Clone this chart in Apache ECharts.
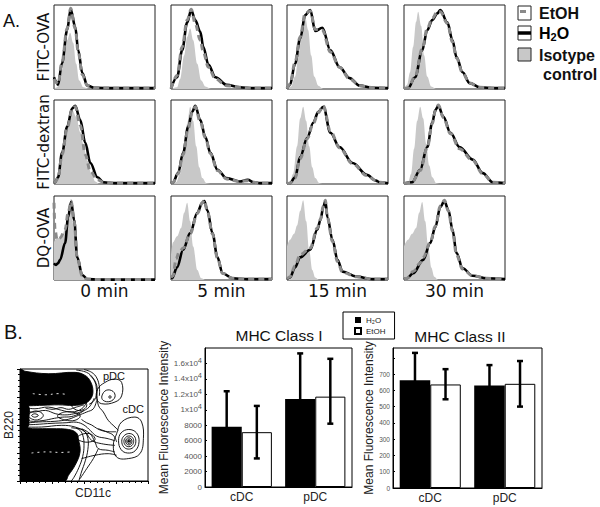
<!DOCTYPE html>
<html>
<head>
<meta charset="utf-8">
<script src="https://cdn.jsdelivr.net/npm/echarts@6/dist/echarts.min.js"></script>
<style>
html, body { margin: 0; padding: 0; background: #fff; }
#main { width: 600px; height: 507px; }
</style>
</head>
<body>
<div id="main"></div>
<script>
// ---- panel A: histograms (x = channel %, y = % of max) ----
var markers = ['FITC-OVA', 'FITC-dextran', 'DQ-OVA'];
var times = ['0 min', '5 min', '15 min', '30 min'];

var ovaH2O = [
    [[0,14],[2,9],[4,5],[8,31],[13,70],[16.5,95],[21,74],[24,46],[28,19],[33,4],[40,1.5],[60,1],[100,1]],
    [[0,0.5],[6,14],[11,46],[16,79],[20,94],[24,82],[29,68],[32,50],[37,29],[44,14],[55,5],[68,2],[80,1],[100,1]],
    [[0,0.5],[3,5],[8,30],[13,60],[18,88],[23,94],[28,69],[35,73],[43,46],[52,26],[62,13],[72,4],[85,1.5],[100,1]],
    [[0,0.5],[4,1],[11,14],[18,46],[23,70],[28,82],[33,90],[36,94],[43,79],[48,58],[52,38],[58,20],[65,7],[75,2],[90,1],[100,1]]
];
var ovaEtOH = [
    [[0,12],[2,8],[4,6],[8,33],[13,72],[16.5,96],[21,72],[24,44],[28,17],[33,4],[40,1.5],[60,1],[100,1]],
    [[0,0.5],[6,16],[11,50],[16,82],[20,95],[24,78],[29,58],[32,44],[37,26],[44,12],[55,4],[68,2],[80,1],[100,1]],
    [[0,0.5],[3,6],[8,32],[13,62],[18,90],[23,93],[28,71],[35,70],[43,44],[52,26],[62,12],[72,4],[85,1.5],[100,1]],
    [[0,0.5],[4,1],[11,15],[18,48],[23,72],[28,84],[33,92],[36,92],[43,78],[48,56],[52,37],[58,19],[65,7],[75,2],[90,1],[100,1]]
];
var ovaIso = [
    [[0,0],[3,2],[6,10],[10,35],[13,58],[16,67],[19,55],[22,30],[25,10],[29,2],[35,0],[100,0]],
    [[0,0],[6,2],[9,12],[13,40],[16,62],[19,72],[22,58],[26,30],[30,10],[34,3],[40,0],[100,0]],
    [[0,0],[4,3],[8,15],[12,45],[15,75],[18,86],[21,70],[24,40],[27,15],[31,4],[36,0],[100,0]],
    [[0,0],[3,5],[6,20],[9,50],[12,80],[14,92],[17,75],[20,40],[23,15],[27,3],[32,0],[100,0]]
];

var dexH2O = [
    [[0,1],[1,2],[4,8],[8,37],[13,68],[18,90],[21,93],[26,76],[31,49],[36,25],[43,8],[49,2],[60,1],[100,1]],
    [[0,1],[2,2],[7,13],[12,37],[17,68],[21,86],[24,93],[29,76],[34,56],[39,37],[46,17],[55,7],[68,3],[76,5],[82,2],[88,1],[100,1]],
    [[0,0.5],[3,1],[8,8],[13,32],[20,55],[26,73],[31,86],[36,92],[43,61],[52,44],[65,25],[79,11],[88,4],[92,2],[100,1]],
    [[0,0.5],[8,2],[16,17],[23,44],[28,73],[31,88],[34,93],[39,80],[46,61],[55,44],[68,29],[78,13],[88,2],[100,1]]
];
var dexEtOH = [
    [[0,1],[1,2],[4,7],[8,35],[13,66],[18,89],[21,92],[26,70],[31,35],[36,15],[43,5],[49,2],[60,1],[100,1]],
    [[0,1],[2,2],[7,12],[12,35],[17,66],[21,85],[24,92],[29,74],[34,55],[39,36],[46,16],[55,6],[68,3],[76,4],[82,2],[88,1],[100,1]],
    [[0,0.5],[3,1],[8,7],[13,30],[20,54],[26,72],[31,85],[36,93],[43,63],[52,43],[65,24],[79,10],[88,4],[92,2],[100,1]],
    [[0,0.5],[8,2],[16,16],[23,43],[28,72],[31,87],[34,94],[39,79],[46,60],[55,42],[68,28],[78,12],[88,2],[100,1]]
];
var dexIso = [
    [[0,0],[3,3],[6,15],[10,45],[14,75],[18,88],[22,80],[26,62],[29,48],[33,28],[37,12],[41,3],[45,0],[100,0]],
    [[0,0],[5,2],[9,12],[13,40],[16,72],[19,92],[22,75],[25,45],[28,20],[31,7],[35,1],[40,0],[100,0]],
    [[0,0],[3,2],[6,12],[10,45],[13,78],[16,92],[19,75],[22,45],[25,20],[28,7],[32,1],[36,0],[100,0]],
    [[0,0],[4,2],[7,12],[10,42],[13,75],[16,92],[19,78],[22,48],[25,22],[28,8],[32,1],[36,0],[100,0]]
];

var dqH2O = [
    [[0,20],[2,18],[4,20],[6,24],[11,44],[14,75],[17,93],[20,71],[23,27],[28,6],[33,1],[45,0.5],[100,0.5]],
    [[0,2],[1,2],[6,15],[12,36],[19,56],[26,80],[31,92],[33,94],[36,83],[41,56],[46,27],[51,8],[61,2],[75,1],[100,1]],
    [[0,1],[3,3],[8,15],[13,27],[23,36],[30,60],[33,71],[36,87],[38,94],[40,75],[45,48],[50,24],[55,10],[69,4],[85,1],[100,1]],
    [[0,1],[3,2],[9,8],[19,24],[26,44],[31,63],[36,87],[40,94],[44,83],[48,60],[52,32],[58,14],[68,5],[82,2],[100,1]]
];
var dqEtOH = [
    [[0,92],[1,60],[3,48],[6,50],[11,60],[14,80],[17,94],[20,70],[23,26],[28,5],[33,1],[45,0.5],[100,0.5]],
    [[0,3],[2,5],[5,25],[8,33],[12,38],[19,55],[26,79],[31,92],[33,95],[36,82],[41,55],[46,26],[51,8],[61,2],[75,1],[100,1]],
    [[0,1],[3,4],[8,17],[13,30],[23,38],[30,62],[33,72],[36,88],[38,95],[40,74],[45,46],[50,22],[55,9],[69,4],[85,1],[100,1]],
    [[0,1],[3,2],[9,10],[16,20],[19,27],[26,45],[31,64],[36,88],[40,95],[44,82],[48,58],[52,30],[58,13],[68,5],[82,2],[100,1]]
];
var dqIso = [
    [[0,45],[3,50],[7,50],[11,60],[14,75],[17,80],[20,60],[23,25],[27,5],[31,0],[100,0]],
    [[0,30],[2,45],[6,52],[10,62],[13,80],[16,92],[19,70],[22,40],[26,12],[30,2],[34,0],[100,0]],
    [[0,40],[3,48],[7,55],[10,65],[13,82],[16,95],[19,70],[22,35],[25,12],[28,3],[32,0],[100,0]],
    [[0,40],[4,48],[8,55],[12,62],[15,80],[18,93],[21,70],[24,40],[27,15],[30,4],[34,0],[100,0]]
];

// ---- panel B: contour plot (CD11c vs B220, % of axis) ----
var upperBlob = [[0,100],[3.9,98],[22,95.8],[43,97],[50.8,94.3],[55,89],[57,80],[55,73],[50,69],[42,67.5],[30,68],[18,67.6],[8,67.2],[0,67]];
var lowerBlob = [[0,47],[10,46.7],[25,46.7],[38,46],[44,43],[45.6,37.8],[46.9,25.9],[43,14],[37.8,5],[35,0],[0,0]];
var leftBand = [[0,68],[6.5,67],[7,57],[6,48],[0,46]];
var upperSpeck = [[10,78],[20,77],[30,78],[38,77]];
var lowerSpeck = [[9,25],[20,26],[32,25.5],[40,26]];
var eyeRing = [[6.5,58.5],[10,62],[15,62],[18.2,58.5],[15,55],[10,55]];
var eyeCore = [[9.1,58.5],[11.5,60],[14.3,58.5],[11.5,57]];
var midRing = [[29.3,58],[35,61.6],[43,61],[47.1,58],[43,54.2],[35,54.5]];
var midRing2 = [[40.4,68],[45,73.5],[50,72],[52.1,67],[48,63.1],[43,64]];
var midRing3 = [[44.3,38.5],[50,42.2],[56,41.5],[58.6,37],[54,34.8],[48,35.5]];
var midLine1 = [[1.3,66],[11.7,64.5],[22.1,66],[32.6,63.1],[40.4,61.6],[48.2,64.5],[52.1,70.5],[56,79.5]];
var midLine2 = [[1.3,51.2],[14.3,52.7],[27.3,53.3],[37.8,55.1],[45.6,58.6],[52.1,61.6],[57.3,64.5],[59.9,72]];
var midLine3 = [[1.3,48.2],[16.9,48.2],[32.6,49.7],[43,48.2],[50.8,43.8],[56,36.3],[63.8,33.3],[74.2,31.8]];
var midLine4 = [[48.2,46.7],[54.7,42.2],[58.6,34.8],[61.2,28.9],[68.9,27.4],[74.2,25.9]];
var midLine5 = [[61.2,28.9],[57.3,20],[52.1,11],[46.9,2]];
var midLine6 = [[1.3,63],[10,61.5],[20,63],[28,60],[35,59],[42,60],[48,62],[54,66],[58,74]];
var midLine7 = [[1.3,55],[6,56],[8,53.5],[18,54],[27,56],[33,57],[40,57.5],[46,60],[50,63]];
var midLine8 = [[1.3,50],[12,50.5],[25,51.5],[36,52],[44,52.5],[50,50],[55,45],[60,40],[68,38],[74,36]];
var midLine9 = [[20,65],[26,64],[32,65.5],[38,64],[44,66],[50,68]];
var midLine10 = [[48,55],[52,52],[56,50],[60,47],[64,45],[70,44],[75,44]];
var upperEdge1 = [[44,99],[52,97],[57,92],[60,85],[60,78],[58,72],[54,68.5]];
var upperEdge2 = [[50,99.5],[56,97],[60,92],[62,84],[62,76]];
var lowerEdge1 = [[40,47.5],[46,46],[49,41],[50,32],[49,22],[46,12],[42,3],[40,0]];
var lowerEdge2 = [[44,47],[50,45],[53,38],[53,28],[51,18],[48,8],[46,0]];
var bridge1 = [[54.7,94.3],[58.6,88.4],[59.9,79.5],[61.2,67.6],[65.1,61.6],[68.9,54.2],[74.2,48.2],[76.8,45.2]];
var bridge2 = [[61.2,46.7],[67.7,43.8],[72.9,40.8],[75.5,34.8]];
var bridge3 = [[48.2,20],[58.6,23],[68.9,24.4],[75.5,23]];
var pdcOuter = [[60.7,82],[66.4,88],[74.2,91],[79.4,88],[79.4,76],[74.2,70.5],[63.8,69],[59.9,73.5]];
var pdcInner = [[64,76],[67.4,81],[72.7,80],[74.2,75],[70.3,71],[65,72]];
var pdcCore = [[69.3,75],[70.3,76.2],[71.3,75],[70.3,73.8]];
var cdcOuter = [[75.5,42.2],[79.4,52.7],[89.8,57.1],[95,52.7],[96.4,37.8],[93.7,24.4],[84.6,20],[75.5,21.4],[72.9,31.8]];
var cdcRing1 = [[77,36],[79,43],[85,46],[91,43],[93,35],[90,27],[84,25],[79,28]];
var cdcRing2 = [[79.5,35.5],[81,40],[85,42.4],[89,40.5],[90.5,35],[88.5,30],[84.5,28.5],[81,30.5]];
var cdcRing3 = [[81.2,35.5],[82.5,38.8],[85,40.2],[87.8,38.8],[88.8,35.2],[87.5,31.8],[85,30.6],[82.3,32]];
var cdcRing4 = [[82.5,35.4],[83.3,37.6],[85,38.6],[86.8,37.6],[87.5,35.3],[86.6,33],[85,32.2],[83.3,33.1]];
var cdcRing5 = [[83.5,35.4],[84.1,36.8],[85.1,37.3],[86.2,36.6],[86.5,35.2],[85.8,33.9],[84.8,33.5],[83.9,34.2]];
var cdcCore = [[84.3,35.4],[85,36.3],[85.8,35.5],[85.1,34.5]];
var gateNames = ['pDC', 'cDC'];
var gatePos = [[73.4, 94], [88.5, 64.5]];

// ---- panel B: MHC bar charts ----
var mhcCats = ['cDC', 'pDC'];
var mhc1H2O = [7800, 11400];
var mhc1EtOH = [7100, 11700];
var mhc1H2OErr = [[3200, 12400], [5500, 17300]];
var mhc1EtOHErr = [[3700, 10500], [8200, 16600]];
var mhc2H2O = [662, 630];
var mhc2EtOH = [636, 640];
var mhc2H2OErr = [[494, 830], [505, 755]];
var mhc2EtOHErr = [[545, 730], [500, 780]];

var histLeft = [54, 171, 287, 404];
var histTop = [5, 100, 196];
var barGapPct = 0.18;

var myChart = echarts.init(document.getElementById('main'), null, { renderer: 'svg' });

var grids = [], xAxes = [], yAxes = [], series = [];
var rows = [[ovaIso, ovaH2O, ovaEtOH], [dexIso, dexH2O, dexEtOH], [dqIso, dqH2O, dqEtOH]];
var hidden = { axisLine: { show: false }, axisTick: { show: false }, axisLabel: { show: false }, splitLine: { show: false } };

rows.forEach(function (set, r) {
    times.forEach(function (t, c) {
        var gi = grids.length;
        grids.push({ left: histLeft[c], top: histTop[r], width: 101, height: 84, show: true, borderColor: '#222', borderWidth: 1 });
        xAxes.push(Object.assign({
            gridIndex: gi, type: 'value', min: 0, max: 100,
            name: r === 2 ? t : '', nameLocation: 'middle', nameGap: 2,
            nameTextStyle: { fontSize: 17, fontFamily: 'DejaVu Sans', color: '#111', verticalAlign: 'top' }
        }, hidden));
        yAxes.push(Object.assign({
            gridIndex: gi, type: 'value', min: 0, max: 100,
            name: c === 0 ? markers[r] : '', nameLocation: 'middle', nameGap: 3,
            nameTextStyle: { fontSize: 15, fontFamily: 'DejaVu Sans', color: '#111' }
        }, hidden));
        var base = { type: 'line', xAxisIndex: gi, yAxisIndex: gi, smooth: 0.35, smoothMonotone: 'x', showSymbol: false, silent: true };
        series.push(Object.assign({}, base, {
            name: markers[r] + ' ' + t + ' isotype', data: set[0][c], z: 1,
            lineStyle: { width: 0 }, areaStyle: { color: '#c8c8c8', opacity: 1 }
        }));
        series.push(Object.assign({}, base, {
            name: markers[r] + ' ' + t + ' water', data: set[1][c], z: 2,
            lineStyle: { color: '#000', width: 2.6 }
        }));
        series.push(Object.assign({}, base, {
            name: markers[r] + ' ' + t + ' ethanol', data: set[2][c], z: 3,
            lineStyle: { color: '#8a8a8a', width: 3, type: [6, 4] }
        }));
    });
});

// contour plot grid (index 12)
var ci = grids.length;
grids.push({ left: 20, top: 369, width: 128, height: 112, show: true, borderColor: '#000', borderWidth: 1 });
var contourAxis = {
    gridIndex: ci, type: 'value', min: 0, max: 100, interval: 25,
    axisLine: { lineStyle: { color: '#000' } },
    axisTick: { length: 3, lineStyle: { color: '#000' } },
    minorTick: { show: true, splitNumber: 5, length: 2, lineStyle: { color: '#000' } },
    axisLabel: { show: false }, splitLine: { show: false },
    nameLocation: 'middle',
    nameTextStyle: { fontSize: 12, fontFamily: 'Liberation Sans', color: '#222' }
};
xAxes.push(Object.assign({}, contourAxis, { name: 'CD11c', nameGap: 6, nameTextStyle: { fontSize: 12, fontFamily: 'Liberation Sans', color: '#222', verticalAlign: 'top', padding: [0, 0, 0, 18] } }));
yAxes.push(Object.assign({}, contourAxis, { name: 'B220', nameGap: 5 }));

function shapeSeries(points, closed, fill, stroke, dash) {
    return {
        type: 'custom', xAxisIndex: ci, yAxisIndex: ci, data: points, silent: true, clip: true,
        z: fill ? 2 : 3,
        renderItem: function (params, api) {
            if (params.dataIndex !== 0) return null;
            var pts = points.map(function (p) { return api.coord(p); });
            return {
                type: closed ? 'polygon' : 'polyline',
                shape: { points: pts, smooth: 0.4 },
                style: { fill: fill || null, stroke: stroke || '#000', lineWidth: 0.9, lineDash: dash || null }
            };
        }
    };
}
[upperBlob, lowerBlob, leftBand, cdcCore].forEach(function (b) { series.push(shapeSeries(b, true, '#000')); });
[upperSpeck, lowerSpeck].forEach(function (b) { series.push(shapeSeries(b, false, null, '#fff', [2, 4])); });
[eyeRing, eyeCore, midRing, midRing2, midRing3, pdcOuter, pdcInner, pdcCore,
 cdcOuter, cdcRing1, cdcRing2, cdcRing3, cdcRing4, cdcRing5].forEach(function (b) { series.push(shapeSeries(b, true)); });
[midLine1, midLine2, midLine3, midLine4, midLine5, midLine6, midLine7, midLine8, midLine9, midLine10,
 upperEdge1, upperEdge2, lowerEdge1, lowerEdge2, bridge1, bridge2, bridge3].forEach(function (b) { series.push(shapeSeries(b, false)); });
// gate names
series.push({
    type: 'custom', xAxisIndex: ci, yAxisIndex: ci, data: gatePos, silent: true, z: 6,
    renderItem: function (params, api) {
        var p = api.coord([api.value(0), api.value(1)]);
        return {
            type: 'text', x: p[0], y: p[1],
            style: { text: gateNames[params.dataIndex], fill: '#111', fontSize: 11, fontFamily: 'Liberation Sans', align: 'center', verticalAlign: 'middle' }
        };
    }
});

// bar charts (index 13, 14)
var barGrids = [
    { left: 205, top: 348, width: 147, height: 139, max: 18000, interval: 2000, gap: 32, fs: 8,
      h2o: mhc1H2O, etoh: mhc1EtOH, h2oErr: mhc1H2OErr, etohErr: mhc1EtOHErr },
    { left: 393, top: 348, width: 149, height: 140, max: 860, interval: 100, gap: 11, fs: 6.5,
      h2o: mhc2H2O, etoh: mhc2EtOH, h2oErr: mhc2H2OErr, etohErr: mhc2EtOHErr }
];

function errorSeries(errs, gi, side) {
    return {
        type: 'custom', xAxisIndex: gi, yAxisIndex: gi, z: 5, silent: true,
        data: errs.map(function (e, i) { return [i, e[0], e[1]]; }),
        encode: { x: 0, y: [1, 2] },
        renderItem: function (params, api) {
            var lo = api.coord([api.value(0), api.value(1)]);
            var hi = api.coord([api.value(0), api.value(2)]);
            var band = api.size([1, 0])[0];
            var x = lo[0] + side * band * (1 - barGapPct) / 4;
            var st = { stroke: '#000', lineWidth: 2.5 };
            return {
                type: 'group', children: [
                    { type: 'line', shape: { x1: x, y1: lo[1], x2: x, y2: hi[1] }, style: st },
                    { type: 'line', shape: { x1: x - 3, y1: hi[1], x2: x + 3, y2: hi[1] }, style: st },
                    { type: 'line', shape: { x1: x - 3, y1: lo[1], x2: x + 3, y2: lo[1] }, style: st }
                ]
            };
        }
    };
}

barGrids.forEach(function (b) {
    var gi = grids.length;
    grids.push({ left: b.left, top: b.top, width: b.width, height: b.height, show: true, borderColor: '#000', borderWidth: 1 });
    xAxes.push({
        gridIndex: gi, type: 'category', data: mhcCats,
        axisLine: { lineStyle: { color: '#000' } },
        axisTick: { inside: true, length: 3, lineStyle: { color: '#000' } },
        axisLabel: { fontSize: 12, color: '#222', margin: 4, fontFamily: 'Liberation Sans' }
    });
    yAxes.push({
        gridIndex: gi, type: 'value', min: 0, max: b.max, interval: b.interval,
        axisLine: { show: true, lineStyle: { color: '#000' } },
        axisTick: { show: true, inside: true, length: 2, lineStyle: { color: '#000' } },
        splitLine: { show: false },
        axisLabel: {
            fontSize: b.fs, color: '#555', margin: 3, showMaxLabel: false,
            formatter: function (v) {
                if (v > b.max - b.interval) return '';
                if (v >= 10000) return '{m|' + (v / 10000) + 'x10}{e|4}';
                return String(v);
            },
            rich: {
                m: { fontSize: 8, color: '#555' },
                e: { fontSize: 7.5, color: '#555', padding: [0, 0, 6, 0] }
            }
        },
        name: 'Mean Fluorescence Intensity', nameLocation: 'middle', nameGap: b.gap,
        nameTextStyle: { fontSize: 12, color: '#222', fontFamily: 'Liberation Sans' }
    });
    series.push({
        type: 'bar', name: 'H₂O', xAxisIndex: gi, yAxisIndex: gi, data: b.h2o,
        barGap: '0%', barCategoryGap: (barGapPct * 100) + '%', itemStyle: { color: '#000' }, silent: true
    });
    series.push({
        type: 'bar', name: 'EtOH', xAxisIndex: gi, yAxisIndex: gi, data: b.etoh,
        barGap: '0%', barCategoryGap: (barGapPct * 100) + '%',
        itemStyle: { color: '#fff', borderColor: '#000', borderWidth: 1 }, silent: true
    });
    series.push(errorSeries(b.h2oErr, gi, -1));
    series.push(errorSeries(b.etohErr, gi, 1));
});

var boldText = { fontSize: 16, fontWeight: 'bold', fontFamily: 'Liberation Sans', fill: '#111' };

option = {
    animation: false,
    textStyle: { fontFamily: 'Liberation Sans' },
    title: [
        { text: 'MHC Class I', left: 274, top: 322, textAlign: 'center', textStyle: { fontSize: 15.5, fontWeight: 'normal', color: '#111' } },
        { text: 'MHC Class II', left: 455, top: 323, textAlign: 'center', textStyle: { fontSize: 15.5, fontWeight: 'normal', color: '#111' } }
    ],
    legend: {
        data: ['H₂O', 'EtOH'], orient: 'vertical', left: 343, top: 312, selectedMode: false,
        icon: 'rect', itemWidth: 6, itemHeight: 6, itemGap: 3, padding: [4, 9, 4, 11],
        borderColor: '#000', borderWidth: 1, backgroundColor: '#fff',
        textStyle: { fontSize: 8, color: '#222' }
    },
    grid: grids,
    xAxis: xAxes,
    yAxis: yAxes,
    series: series,
    graphic: [
        { type: 'text', left: 3, top: 12, style: { text: 'A.', fontSize: 18, fontFamily: 'Liberation Sans', fill: '#111' } },
        { type: 'text', left: 4, top: 322, style: { text: 'B.', fontSize: 20, fontFamily: 'Liberation Sans', fill: '#111' } },
        // histogram key
        { type: 'rect', shape: { x: 518, y: 6, width: 13, height: 14 }, style: { fill: '#fff', stroke: '#222', lineWidth: 1 } },
        { type: 'line', shape: { x1: 520, y1: 11.5, x2: 526, y2: 11.5 }, style: { stroke: '#8a8a8a', lineWidth: 3 } },
        { type: 'rect', shape: { x: 518, y: 26, width: 13, height: 14 }, style: { fill: '#fff', stroke: '#222', lineWidth: 1 } },
        { type: 'line', shape: { x1: 518, y1: 33, x2: 531, y2: 33 }, style: { stroke: '#000', lineWidth: 3.5 } },
        { type: 'rect', shape: { x: 518, y: 48, width: 13, height: 13 }, style: { fill: '#c8c8c8', stroke: '#222', lineWidth: 1 } },
        { type: 'text', x: 539, y: 13, style: Object.assign({ text: 'EtOH', verticalAlign: 'middle' }, boldText) },
        { type: 'text', x: 539, y: 33, style: {
            text: '{a|H}{s|2}{a|O}', verticalAlign: 'middle',
            rich: {
                a: { fontSize: 16, fontWeight: 'bold', fontFamily: 'Liberation Sans', color: '#111' },
                s: { fontSize: 11, fontWeight: 'bold', fontFamily: 'Liberation Sans', color: '#111', padding: [7, 0, 0, 0] }
            }
        } },
        { type: 'text', x: 539, y: 55, style: Object.assign({ text: 'Isotype', verticalAlign: 'middle' }, boldText) },
        { type: 'text', x: 543, y: 74, style: Object.assign({ text: 'control', verticalAlign: 'middle' }, boldText) }
    ]
};

myChart.setOption(option);
</script>
</body>
</html>
